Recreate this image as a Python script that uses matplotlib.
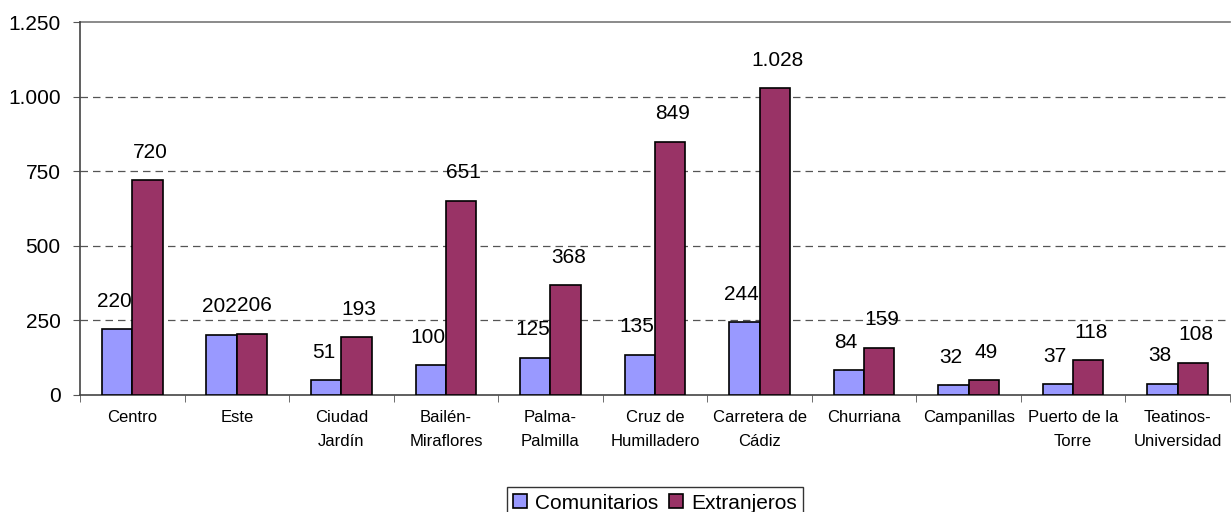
import matplotlib
matplotlib.use("Agg")
import matplotlib.pyplot as plt
import numpy as np
from matplotlib.ticker import FuncFormatter, FixedLocator

plt.rcParams['font.family'] = ['Liberation Sans', 'DejaVu Sans']

categories = ["Centro", "Este", "Ciudad\nJardín", "Bailén-\nMiraflores", "Palma-\nPalmilla",
              "Cruz de\nHumilladero", "Carretera de\nCádiz", "Churriana", "Campanillas",
              "Puerto de la\nTorre", "Teatinos-\nUniversidad"]
comunitarios = [220, 202, 51, 100, 125, 135, 244, 84, 32, 37, 38]
extranjeros = [720, 206, 193, 651, 368, 849, 1028, 159, 49, 118, 108]
series_names = ["Comunitarios", "Extranjeros"]
yticks = [0, 250, 500, 750, 1000, 1250]

c_blue = "#9999FF"
c_red = "#993366"

fig = plt.figure(figsize=(12.31, 5.12), dpi=100)
ax = fig.add_axes([80/1231, 1-395/512, (1230-80)/1231, (395-22)/512])

x = np.arange(len(categories))
w = 0.29
b1 = ax.bar(x - w/2, comunitarios, w, color=c_blue, edgecolor="black", linewidth=1.2, label=series_names[0], zorder=3)
b2 = ax.bar(x + w/2, extranjeros, w, color=c_red, edgecolor="black", linewidth=1.2, label=series_names[1], zorder=3)

def fmt(v):
    return f"{int(v):,}".replace(",", ".")

for bars, vals, dx in ((b1, comunitarios, -2), (b2, extranjeros, 2)):
    for r, v in zip(bars, vals):
        ax.annotate(fmt(v), (r.get_x() + r.get_width()/2, v), xytext=(dx, 20), textcoords="offset points",
                    ha="center", va="center", fontsize=15, zorder=4)

ax.set_xlim(-0.5, len(categories) - 0.5)
ax.set_ylim(0, 1250)
ax.set_yticks(yticks)
ax.yaxis.set_major_formatter(FuncFormatter(lambda v, p: fmt(v)))
ax.tick_params(axis='y', labelsize=15, length=5, color="#555555", pad=9)

for yv in yticks[1:-1]:
    ax.axhline(yv, color="#555555", linestyle=(0, (6, 4)), linewidth=0.9, zorder=1)
ax.axhline(1250, color="#777777", linewidth=1.2, zorder=1, clip_on=False)

ax.set_xticks(x)
ax.set_xticklabels(categories, fontsize=12, linespacing=1.75)
ax.tick_params(axis='x', length=0, pad=11)
ax.xaxis.set_minor_locator(FixedLocator(np.arange(-0.5, len(categories), 1.0)))
ax.tick_params(axis='x', which='minor', length=5, color="#555555")

for s in ("top", "right"):
    ax.spines[s].set_visible(False)
for s in ("left", "bottom"):
    ax.spines[s].set_color("#444444")
    ax.spines[s].set_linewidth(1.2)

leg = fig.legend(handles=[b1, b2], labels=series_names, loc="upper center",
                 bbox_to_anchor=(655/1231, 1-477/512), ncol=2, fontsize=15, frameon=True,
                 fancybox=False, edgecolor="black", handlelength=0.65, handleheight=0.65,
                 handletextpad=0.4, columnspacing=0.5, borderpad=0.3)
leg.get_frame().set_linewidth(1.0)

fig.savefig("out.png", dpi=100)
